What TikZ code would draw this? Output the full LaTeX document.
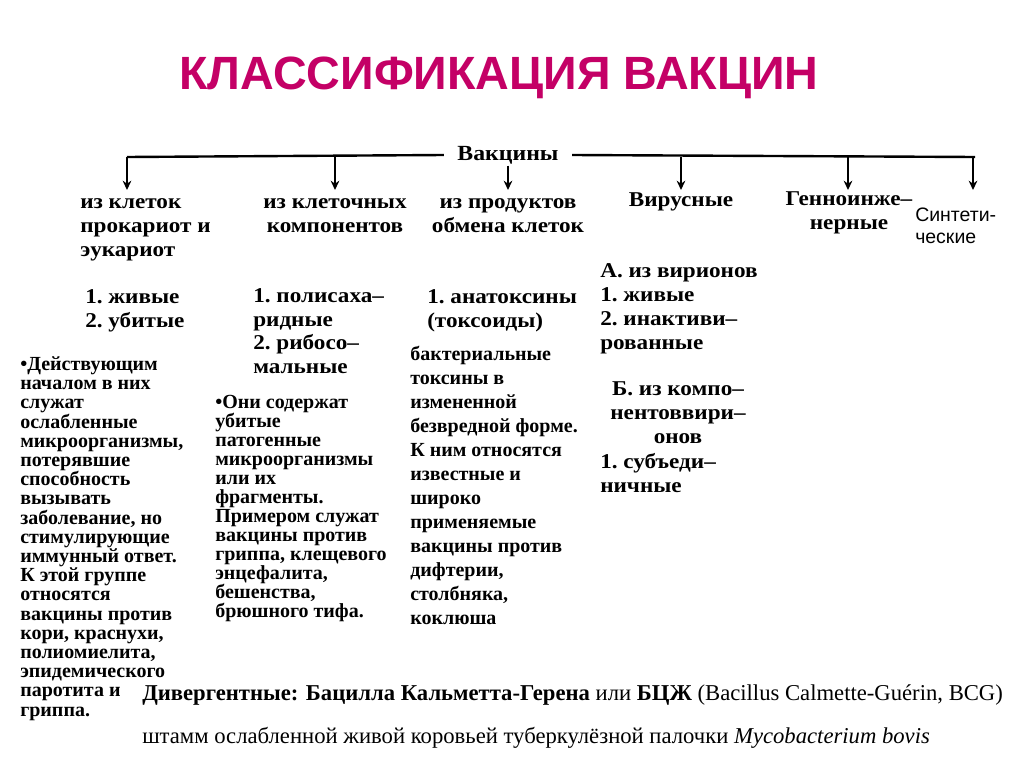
\documentclass[tikz,border=0pt]{standalone}
\usepackage{fontspec}
\setmainfont{Liberation Serif}
\newfontfamily\arialfont{Liberation Sans}
\newfontfamily\scanfont[FakeStretch=1.1]{Liberation Serif}
\usetikzlibrary{arrows.meta}
\definecolor{titlecol}{RGB}{196,0,102}

\begin{document}
\begin{tikzpicture}[x=0.75pt, y=-0.75pt,
    lbl/.style={font=\scanfont\bfseries\fontsize{15.8}{18}\selectfont, inner sep=0pt, align=left, anchor=base west},
    note/.style={font=\bfseries\fontsize{15}{14.4}\selectfont, inner sep=0pt, align=left, anchor=base west},
    arr/.style={line width=1.6pt, -{Stealth[length=7pt, width=6.5pt]}},
    trunk/.style={line width=1.8pt}]
  \fill[white] (0,0) rectangle (1024,767);
  \useasboundingbox (0,0) rectangle (1024,767);

  % title
  \node[font=\arialfont\bfseries\fontsize{35}{40}\selectfont, text=titlecol] (title) at (499,78) {КЛАССИФИКАЦИЯ ВАКЦИН};

  % top of the tree
  \node[font=\scanfont\bfseries\fontsize{16.2}{18}\selectfont, inner xsep=10pt, inner ysep=1pt] (vak) at (508,155) {Вакцины};
  \coordinate (jA) at (127,157);
  \coordinate (jB) at (335,157);
  \coordinate (jD) at (681,157);
  \coordinate (jE) at (848,157);
  \coordinate (jF) at (975,157);
  \draw[trunk] (jA) -- (vak.west);
  \draw[trunk] (vak.east) -- (jF);

  % groups (anchored at the baseline of the last line)
  \node[lbl] (cells) at (80,256) {из клеток\\прокариот и\\эукариот};
  \node[lbl, align=center, anchor=base] (comps) at (335,232) {из клеточных\\компонентов};
  \node[lbl, align=center, anchor=base] (prods) at (508,232) {из продуктов\\обмена клеток};
  \node[lbl, anchor=base] (vir) at (681,206) {Вирусные};
  \node[lbl, align=center, anchor=base] (gen) at (849,229) {Генноинже–\\нерные};
  \node[font=\arialfont\fontsize{14.6}{16.5}\selectfont, inner sep=0pt, align=left, anchor=base west] (syn) at (915,243) {Синтети-\\ческие};

  % arrow tips
  \coordinate (tA) at (127,190);
  \coordinate (tB) at (335,190);
  \coordinate (tC) at (508,190);
  \coordinate (tD) at (681,190);
  \coordinate (tE) at (848,190);
  \coordinate (tF) at (973,190);
  \draw[arr] (jA) -- (tA);
  \draw[arr] (jB) -- (tB);
  \draw[arr, line width=1.3pt] (vak.south) -- (tC);
  \draw[arr] (jD) -- (tD);
  \draw[arr] (jE) -- (tE);
  \draw[arr] (jF -| tF) -- (tF);

  % kinds
  \node[lbl] (kinds1) at (85,327) {1.~живые\\2.~убитые};
  \node[lbl, font=\scanfont\bfseries\fontsize{15.8}{17.6}\selectfont] (kinds2) at (253,373) {1.~полисаха–\\ридные\\2.~рибосо–\\мальные};
  \node[lbl] (kinds3) at (427,327) {1.~анатоксины\\(токсоиды)};
  \node[lbl] (virA) at (600,349) {А.~из вирионов\\1.~живые\\2.~инактиви–\\рованные};
  \node[lbl, align=center, anchor=base] (virB) at (678,443) {Б.~из компо–\\нентоввири–\\онов};
  \node[lbl] (virB1) at (600,492) {1.~субъеди–\\ничные};

  % notes
  \node[note] (note1) at (20,716) {•Действующим\\началом в них\\служат\\ослабленные\\микроорганизмы,\\потерявшие\\способность\\вызывать\\заболевание, но\\стимулирующие\\иммунный ответ.\\К этой группе\\относятся\\вакцины против\\кори, краснухи,\\полиомиелита,\\эпидемического\\паротита и\\гриппа.};
  \node[note, font=\bfseries\fontsize{15}{14.25}\selectfont] (note2) at (215,617) {•Они содержат\\убитые\\патогенные\\микроорганизмы\\или их\\фрагменты.\\Примером служат\\вакцины против\\гриппа, клещевого\\энцефалита,\\бешенства,\\брюшного тифа.};
  \node[note, font=\bfseries\fontsize{15}{18}\selectfont] (note3) at (410,624) {бактериальные\\токсины в\\измененной\\безвредной форме.\\К ним относятся\\известные и\\широко\\применяемые\\вакцины против\\дифтерии,\\столбняка,\\коклюша};

  % BCG
  \node[font=\fontsize{17}{18}\selectfont, inner sep=0pt, anchor=base west] (bcg) at (142,700) {\textbf{Дивергентные: Бацилла Кальметта-Герена} или \textbf{БЦЖ} (Bacillus Calmette-Guérin, BCG)};
  \node[font=\fontsize{17}{18}\selectfont, inner sep=0pt, anchor=base west] (strain) at (142,743) {штамм ослабленной живой коровьей туберкулёзной палочки \textit{Mycobacterium bovis}};
\end{tikzpicture}
\end{document}
